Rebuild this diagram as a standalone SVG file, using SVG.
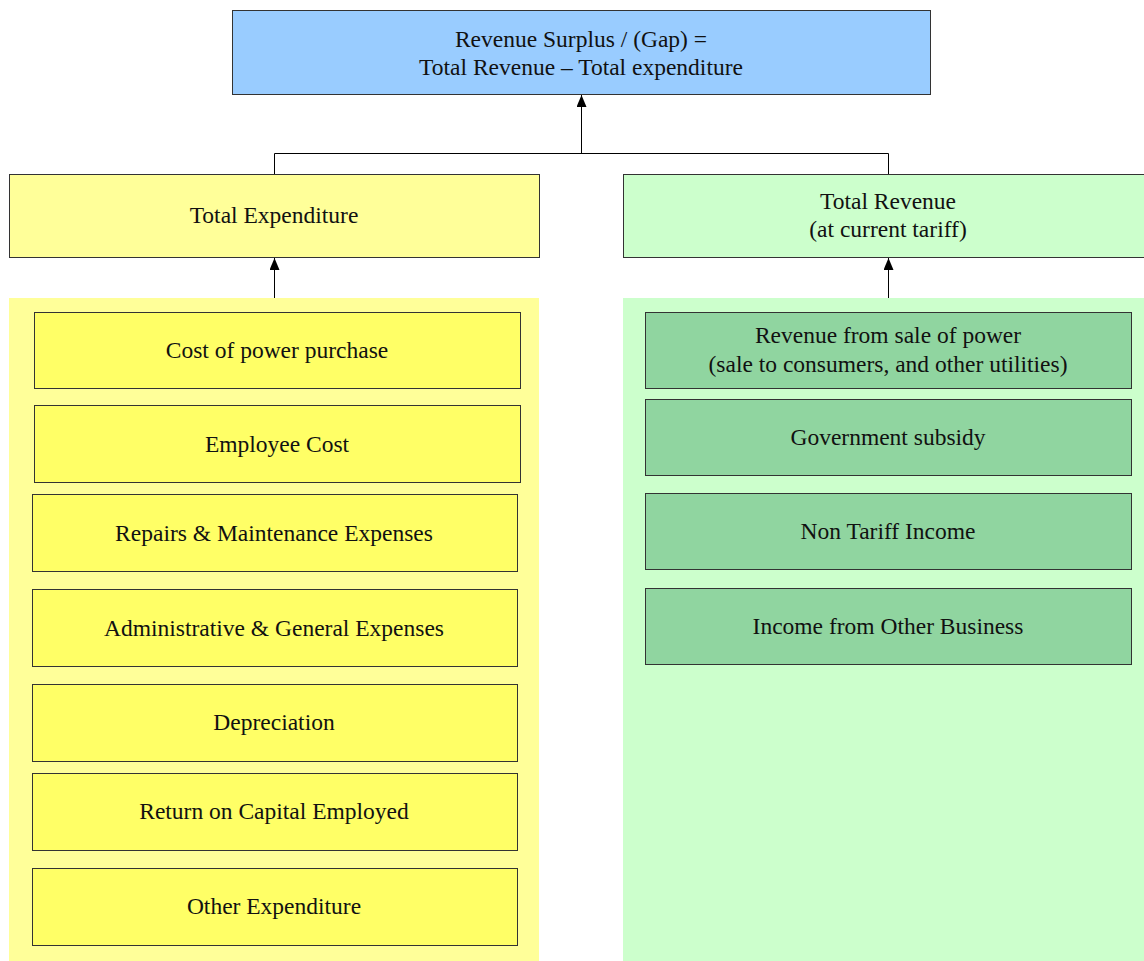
<svg xmlns="http://www.w3.org/2000/svg" width="1144" height="961" viewBox="0 0 1144 961">
<defs>
<marker id="arr" markerWidth="12" markerHeight="10" refX="12" refY="5" orient="auto" markerUnits="userSpaceOnUse" viewBox="0 0 12 10">
<path d="M0,0 L12,5 L0,10 Z" fill="#000"/>
</marker>
<style>
text{font-family:"Liberation Serif","Times New Roman",serif;font-size:23.5px;fill:#111;text-anchor:middle}
.box{stroke:#333;stroke-width:1}
.conn{stroke:#000;stroke-width:1;fill:none}
.y{fill:#ffff66}
.g{fill:#90d5a0}
</style>
</defs>
<rect width="1144" height="961" fill="#fff"/>
<g id="panel-expenditure"><rect x="9" y="298" width="530" height="663" fill="#ffff99"/></g>
<g id="panel-revenue"><rect x="623" y="298" width="521" height="663" fill="#ccffcc"/></g>
<g id="connectors">
<path class="conn" d="M581.5,153.5 V95" marker-end="url(#arr)"/>
<path class="conn" d="M274.5,174 V153.5 H888.5 V174"/>
<path class="conn" d="M274.5,298 V258" marker-end="url(#arr)"/>
<path class="conn" d="M888.5,298 V258" marker-end="url(#arr)"/>
</g>
<g id="surplus"><rect class="box" x="232.5" y="10.5" width="698" height="84" fill="#99ccff"/>
<text x="581" y="47">Revenue Surplus / (Gap) =</text><text x="581" y="75">Total Revenue – Total expenditure</text></g>
<g id="total-expenditure"><rect class="box" x="9.5" y="174.5" width="530" height="83" fill="#ffff99"/>
<text x="274" y="223">Total Expenditure</text></g>
<g id="total-revenue"><rect class="box" x="623.5" y="174.5" width="530" height="83" fill="#ccffcc"/>
<text x="888" y="209">Total Revenue</text><text x="888" y="237">(at current tariff)</text></g>
<g id="cost-power"><rect class="box y" x="34.5" y="312.5" width="486" height="76"/><text x="277" y="358">Cost of power purchase</text></g>
<g id="employee"><rect class="box y" x="34.5" y="405.5" width="486" height="77"/><text x="277" y="452">Employee Cost</text></g>
<g id="repairs"><rect class="box y" x="32.5" y="494.5" width="485" height="77"/><text x="274" y="541">Repairs &amp; Maintenance Expenses</text></g>
<g id="admin"><rect class="box y" x="32.5" y="589.5" width="485" height="77"/><text x="274" y="636">Administrative &amp; General Expenses</text></g>
<g id="depreciation"><rect class="box y" x="32.5" y="684.5" width="485" height="77"/><text x="274" y="730">Depreciation</text></g>
<g id="roce"><rect class="box y" x="32.5" y="773.5" width="485" height="77"/><text x="274" y="819">Return on Capital Employed</text></g>
<g id="other-exp"><rect class="box y" x="32.5" y="868.5" width="485" height="77"/><text x="274" y="914">Other Expenditure</text></g>
<g id="rev-sale"><rect class="box g" x="645.5" y="312.5" width="486" height="76"/><text x="888" y="343">Revenue from sale of power</text><text x="888" y="372">(sale to consumers, and other utilities)</text></g>
<g id="subsidy"><rect class="box g" x="645.5" y="399.5" width="486" height="76"/><text x="888" y="445">Government subsidy</text></g>
<g id="non-tariff"><rect class="box g" x="645.5" y="493.5" width="486" height="76"/><text x="888" y="539">Non Tariff Income</text></g>
<g id="other-business"><rect class="box g" x="645.5" y="588.5" width="486" height="76"/><text x="888" y="634">Income from Other Business</text></g>
</svg>
